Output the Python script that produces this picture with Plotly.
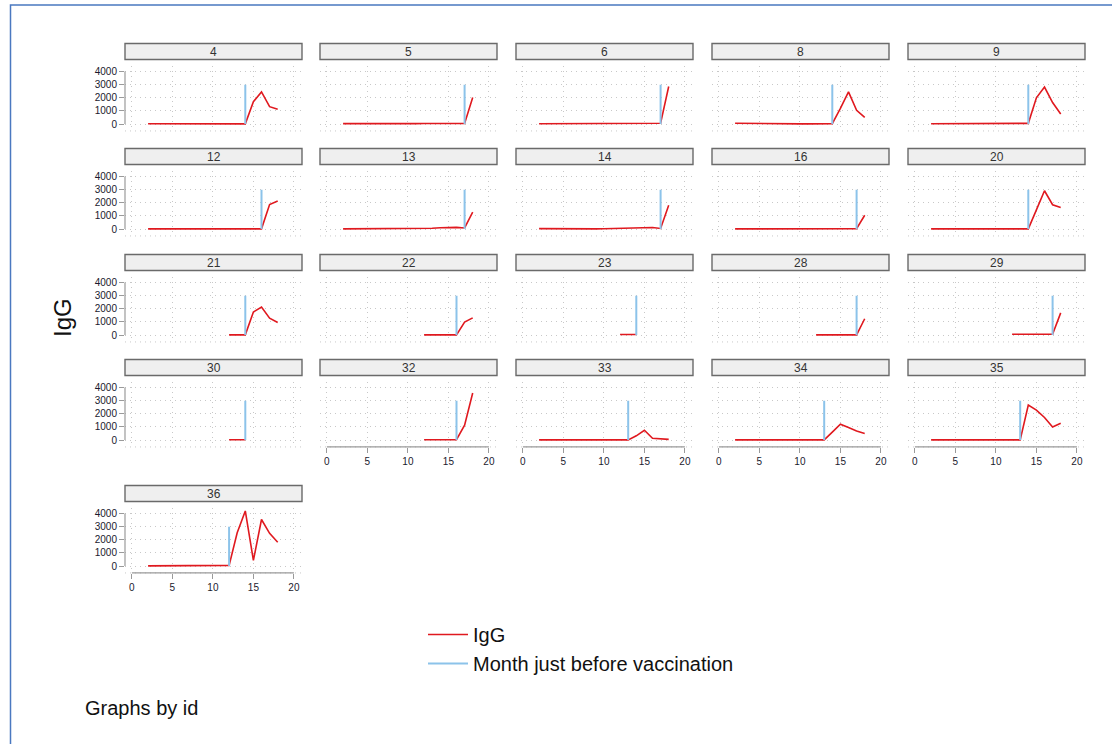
import plotly.graph_objects as go

# ---------------- data ----------------
ids = [4, 5, 6, 8, 9, 12, 13, 14, 16, 20, 21, 22, 23, 28, 29, 30, 32, 33, 34, 35, 36]

months_full = list(range(2, 19))      # 2..18
months_late = list(range(12, 19))     # 12..18
months_short = [12, 13, 14]

igg_4 = [20, 15, 10, 10, 10, 15, 20, 15, 10, 10, 10, 10, 10, 1700, 2450, 1320, 1120]
igg_5 = [30, 25, 20, 20, 15, 15, 10, 10, 20, 30, 40, 50, 40, 40, 30, 40, 2020]
igg_6 = [20, 20, 15, 15, 10, 10, 10, 15, 20, 25, 30, 30, 40, 40, 50, 60, 2860]
igg_8 = [60, 50, 30, 10, 10, 10, 10, 10, 10, 10, 20, 20, 20, 1200, 2450, 1050, 500]
igg_9 = [20, 20, 15, 15, 10, 10, 10, 15, 20, 25, 30, 40, 50, 2000, 2820, 1640, 760]
igg_12 = [10, 10, 10, 10, 10, 10, 10, 10, 10, 10, 10, 10, 10, 10, 10, 1870, 2130]
igg_13 = [10, 10, 10, 10, 10, 10, 10, 10, 10, 20, 40, 60, 90, 120, 120, 80, 1280]
igg_14 = [30, 20, 10, 10, 10, 10, 10, 10, 20, 30, 50, 80, 70, 60, 110, 40, 1820]
igg_16 = [10, 10, 10, 10, 10, 10, 10, 10, 10, 10, 10, 20, 20, 30, 50, 20, 1050]
igg_20 = [10, 10, 10, 10, 10, 10, 10, 10, 10, 10, 10, 10, 10, 1460, 2920, 1850, 1640]
igg_21 = [10, 10, 10, 1760, 2140, 1290, 960]
igg_22 = [10, 10, 10, 10, 10, 980, 1310]
igg_23 = [40, 40, 40]
igg_28 = [10, 10, 10, 10, 10, 10, 1240]
igg_29 = [60, 50, 50, 60, 60, 60, 1690]
igg_30 = [20, 20, 20]
igg_32 = [20, 20, 20, 20, 20, 1130, 3590]
igg_33 = [10, 10, 10, 10, 10, 10, 10, 10, 10, 10, 10, 10, 320, 740, 130, 80, 50]
igg_34 = [10, 10, 10, 10, 10, 10, 10, 10, 10, 10, 10, 10, 600, 1200, 950, 690, 500]
igg_35 = [10, 10, 10, 10, 10, 10, 10, 10, 10, 10, 10, 10, 2670, 2280, 1720, 1000, 1280]
igg_36 = [10, 10, 10, 10, 10, 10, 10, 10, 10, 10, 50, 2540, 4200, 430, 3550, 2490, 1810]

# month just before vaccination, per id (same order as ids)
vacc_month = [14, 17, 17, 14, 14, 16, 17, 17, 17, 14, 14, 16, 14, 17, 17, 14, 16, 13, 13, 13, 12]
vacc_marker = [0, 3000]   # height of the reference line

panel_months = {
    4: months_full, 5: months_full, 6: months_full, 8: months_full, 9: months_full,
    12: months_full, 13: months_full, 14: months_full, 16: months_full, 20: months_full,
    21: months_late, 22: months_late, 23: months_short, 28: months_late, 29: months_late,
    30: months_short, 32: months_late, 33: months_full, 34: months_full, 35: months_full,
    36: months_full,
}
panel_igg = {
    4: igg_4, 5: igg_5, 6: igg_6, 8: igg_8, 9: igg_9, 12: igg_12, 13: igg_13, 14: igg_14,
    16: igg_16, 20: igg_20, 21: igg_21, 22: igg_22, 23: igg_23, 28: igg_28, 29: igg_29,
    30: igg_30, 32: igg_32, 33: igg_33, 34: igg_34, 35: igg_35, 36: igg_36,
}

y_ticks = [0, 1000, 2000, 3000, 4000]
x_ticks = [0, 5, 10, 15, 20]

# ---------------- layout geometry (pixels) ----------------
W, H = 1112, 744
col_left = [125, 320, 516, 712, 908]
panel_w = 177
row_zero = [124, 229, 335, 440, 566]       # pixel of y=0
px_per_1000 = 13.1
y_top_val, y_bot_val = 4460, -530
x_range = [-0.85, 21.0]

RED = "#e0191f"
BLUE = "#8cc3ea"
GRID = "#c8c8c8"
GRID_DASH = "1px,4px"
FONT = "Liberation Sans, Arial, sans-serif"

fig = go.Figure()
layout = dict(
    width=W, height=H, margin=dict(l=0, r=0, t=0, b=0),
    paper_bgcolor="white", plot_bgcolor="white",
    font=dict(family=FONT, color="#222"),
    showlegend=True,
)
shapes = []
annotations = []

n_panels = len(ids)
for i, pid in enumerate(ids):
    r, c = divmod(i, 5)
    n = i + 1
    xa = "x" if n == 1 else f"x{n}"
    ya = "y" if n == 1 else f"y{n}"
    xkey = "xaxis" if n == 1 else f"xaxis{n}"
    ykey = "yaxis" if n == 1 else f"yaxis{n}"

    x0p = col_left[c]
    x1p = x0p + panel_w
    top_p = row_zero[r] - (y_top_val / 1000) * px_per_1000
    bot_p = row_zero[r] - (y_bot_val / 1000) * px_per_1000

    show_y = (c == 0)
    show_x = (i + 5) >= n_panels

    layout[xkey] = dict(
        domain=[x0p / W, x1p / W], anchor=ya, range=x_range,
        tickvals=x_ticks, showticklabels=show_x,
        ticks="outside" if show_x else "", ticklen=5, tickcolor="#9a9a9a", tickwidth=1.2,
        tickfont=dict(size=10, color="#1a1a2e"),
        showgrid=True, gridcolor=GRID, griddash=GRID_DASH, gridwidth=1,
        zeroline=False, showline=False, fixedrange=True,
    )
    layout[ykey] = dict(
        domain=[1 - bot_p / H, 1 - top_p / H], anchor=xa, range=[y_bot_val, y_top_val],
        tickvals=y_ticks, showticklabels=show_y,
        ticks="outside" if show_y else "", ticklen=5, tickcolor="#9a9a9a", tickwidth=1.2,
        tickfont=dict(size=10, color="#1a1a2e"),
        showgrid=True, gridcolor=GRID, griddash=GRID_DASH, gridwidth=1,
        zeroline=False, showline=False, fixedrange=True,
    )

    fig.add_trace(go.Scatter(
        x=panel_months[pid], y=panel_igg[pid], mode="lines",
        line=dict(color=RED, width=1.6), name="IgG",
        legendgroup="igg", showlegend=(i == 0), xaxis=xa, yaxis=ya, hoverinfo="skip",
    ))
    fig.add_trace(go.Scatter(
        x=[vacc_month[i], vacc_month[i]], y=vacc_marker, mode="lines",
        line=dict(color=BLUE, width=2), name="Month just before vaccination",
        legendgroup="vacc", showlegend=(i == 0), xaxis=xa, yaxis=ya, hoverinfo="skip",
    ))

    shapes.append(dict(type="line", xref=f"{xa} domain", yref=f"{ya} domain",
                       x0=0, x1=1, y0=0, y1=0, line=dict(color=GRID, width=1, dash=GRID_DASH)))
    if show_y:
        shapes.append(dict(type="line", xref=f"{xa} domain", yref=ya,
                           x0=0, x1=0, y0=y_ticks[0], y1=y_ticks[-1],
                           line=dict(color="#9a9a9a", width=1.2)))
    if show_x:
        shapes.append(dict(type="line", xref=xa, yref=f"{ya} domain",
                           x0=x_ticks[0], x1=x_ticks[-1], y0=0, y1=0,
                           line=dict(color="#9a9a9a", width=1.2)))

    s_top = top_p - 22
    s_bot = top_p - 6
    shapes.append(dict(type="rect", xref="paper", yref="paper",
                       x0=x0p / W, x1=x1p / W, y0=1 - s_bot / H, y1=1 - s_top / H,
                       fillcolor="#efefef", line=dict(color="#6a6a6a", width=1.4)))
    annotations.append(dict(text=str(pid), xref="paper", yref="paper",
                            x=(x0p + x1p) / 2 / W, y=1 - (s_top + s_bot) / 2 / H,
                            showarrow=False, xanchor="center", yanchor="middle",
                            font=dict(size=12, color="#333", family=FONT)))

annotations.append(dict(text="IgG", xref="paper", yref="paper", x=62 / W, y=1 - 318 / H,
                        showarrow=False, textangle=-90, xanchor="center", yanchor="middle",
                        font=dict(size=24, color="#111", family=FONT)))
annotations.append(dict(text="Graphs by id", xref="paper", yref="paper", x=83 / W, y=1 - 708 / H,
                        showarrow=False, xanchor="left", yanchor="middle",
                        font=dict(size=20, color="#111", family=FONT)))
shapes.append(dict(type="rect", xref="paper", yref="paper", x0=10.5 / W, x1=1.01, y0=-0.01, y1=1 - 5 / H,
                   line=dict(color="#4a78c0", width=1.5), fillcolor="rgba(0,0,0,0)"))

layout["shapes"] = shapes
layout["annotations"] = annotations
layout["legend"] = dict(x=423 / W, y=1 - 615 / H, xanchor="left", yanchor="top",
                        bgcolor="rgba(0,0,0,0)", font=dict(size=20, color="#111", family=FONT),
                        tracegroupgap=0, itemwidth=40)
fig.update_layout(**layout)
fig.write_html("out.html", config={"displayModeBar": False},
               post_script="document.body.style.margin='0';document.body.style.overflow='hidden';")
